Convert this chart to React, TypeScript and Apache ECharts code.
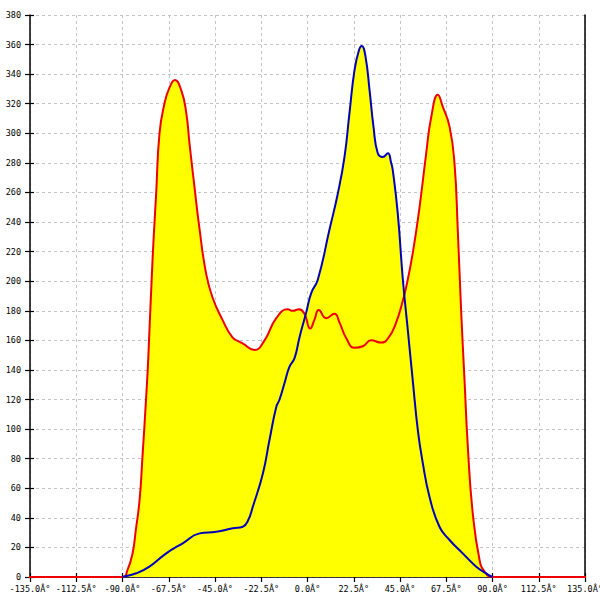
import React, { useEffect, useRef } from "react";
import * as echarts from "echarts";

// Red curve: angle (deg) and value
const redAngles = [-180, -90, -87.5, -85.1, -83.5, -81.7, -80.3, -78.3, -77.4, -75.4, -73.6, -72, -69.6, -67.1, -64.5, -61.4, -59, -57.4, -55, -52.5, -49.3, -46.2, -41.4, -36.5, -33, -31.6, -25.8, -20.9, -15.2, -9.6, -7.1, -4.2, -1.5, 1.3, 3.4, 5.5, 9.1, 13.1, 15.6, 18.8, 22.9, 26.9, 31, 35.9, 39.5, 43.1, 46.4, 48, 51.2, 54.5, 57.7, 60.2, 63.4, 65.8, 69.1, 71.5, 73.1, 74.8, 76.4, 78, 80.4, 83.7, 86, 90, 180];
const redValues = [0, 0, 5, 16, 32, 52, 81, 126, 150, 214, 260, 300, 320, 331, 336, 329, 314, 293, 264, 235, 205, 189, 174, 162, 159, 158, 153.5, 160, 175, 181, 180, 181, 178, 168, 174, 180.5, 175, 178, 172, 161.6, 155, 156, 160, 158.5, 162, 172, 187, 196, 219, 250, 286, 311, 326, 318, 304.5, 280, 235, 178, 133, 88, 43, 11.5, 4, 0, 0];

// Blue curve: angle (deg) and value
const blueAngles = [-90, -83.3, -76.9, -68.7, -60.7, -52.5, -44.4, -36.3, -31.5, -29, -26.6, -21.7, -18.5, -15.2, -13.6, -11.2, -8.8, -6.3, -3.9, -0.6, 1.8, 5, 10.7, 14.7, 18, 20.4, 22.9, 25, 26.4, 28.2, 30.2, 32.1, 34.2, 36.6, 39.1, 40.7, 41.5, 43.9, 46.4, 48.8, 51.2, 53.7, 56.1, 59.4, 64.2, 69.1, 75.5, 82.1, 86.9, 90];
const blueValues = [0, 2.5, 7, 16, 22.8, 29.5, 30.6, 33, 34, 38, 47.5, 70, 92.6, 115, 120, 131, 142, 148, 162, 179, 192, 201, 235, 259, 284, 313.5, 343, 356, 359, 352, 329, 304.5, 286.5, 284, 286.5, 280, 275, 246, 201, 167, 133, 99, 77, 54, 34, 25, 16, 7, 2.5, 0];

const xMin = -135;
const xMax = 135;
const xStep = 22.5;
const yMin = 0;
const yMax = 380;
const yStep = 20;

const fmtAngle = (v: number) => v.toFixed(1) + "Â°";

export default function App() {
  const ref = useRef<HTMLDivElement>(null);
  useEffect(() => {
    if (!ref.current) return;
    const chart = echarts.init(ref.current, null, { renderer: "svg" });
    const red = redAngles.map((a, i) => [a, redValues[i]]);
    const blue = blueAngles.map((a, i) => [a, blueValues[i]]);
    const labelStyle = { fontFamily: "DejaVu Sans Mono", fontSize: 8.5, color: "#000" };
    const split = { show: true, lineStyle: { color: "#c4c4c4", type: [3, 3] as any, width: 1 } };
    const smooth = 0.5;
    chart.setOption({
      animation: false,
      backgroundColor: "#fff",
      grid: { left: 30, right: 15, top: 15, bottom: 23, outerBoundsMode: "none", containLabel: false },
      xAxis: [
        {
          type: "value", min: xMin, max: xMax, interval: xStep, position: "bottom",
          axisLine: { show: true, onZero: false, lineStyle: { color: "#000", width: 1.5 } },
          axisTick: { show: true, length: 5, lineStyle: { color: "#000", width: 1.2 } },
          axisLabel: { ...labelStyle, margin: 7, formatter: fmtAngle, showMinLabel: true, showMaxLabel: true },
          splitLine: split,
        },
        {
          type: "value", min: xMin, max: xMax, interval: xStep, position: "bottom",
          axisLine: { show: false, onZero: false },
          axisTick: { show: true, inside: true, length: 4, lineStyle: { color: "#000", width: 1.2 } },
          axisLabel: { show: false },
          splitLine: { show: false },
        },
      ],
      yAxis: [
        {
          type: "value", min: yMin, max: yMax, interval: yStep, position: "left",
          axisLine: { show: true, onZero: false, lineStyle: { color: "#000", width: 1.5 } },
          axisTick: { show: true, length: 5, lineStyle: { color: "#000", width: 1.2 } },
          axisLabel: { ...labelStyle, margin: 9 },
          splitLine: split,
        },
        {
          type: "value", min: yMin, max: yMax, interval: yStep, position: "left",
          axisLine: { show: false, onZero: false },
          axisTick: { show: true, inside: true, length: 4, lineStyle: { color: "#000", width: 1.2 } },
          axisLabel: { show: false },
          splitLine: { show: false },
        },
        {
          type: "value", min: yMin, max: yMax, interval: yStep, position: "right",
          axisLine: { show: true, onZero: false, lineStyle: { color: "#000", width: 1.5 } },
          axisTick: { show: false },
          axisLabel: { show: false },
          splitLine: { show: false },
        },
      ],
      series: [
        {
          type: "line", data: red, smooth, showSymbol: false,
          lineStyle: { width: 0 }, areaStyle: { color: "#ffff00", opacity: 1 }, z: 1,
        },
        {
          type: "line", data: blue, smooth, showSymbol: false,
          lineStyle: { width: 0 }, areaStyle: { color: "#ffff00", opacity: 1 }, z: 1,
        },
        {
          type: "line", data: red, smooth, showSymbol: false, clip: false,
          lineStyle: { width: 2, color: "#ee0000" }, z: 3,
        },
        {
          type: "line", data: blue, smooth, showSymbol: false,
          lineStyle: { width: 2, color: "#0000bb" }, z: 4,
        },
      ],
    });
    return () => chart.dispose();
  }, []);
  return (
    <div
      ref={ref}
      style={{ position: "fixed", left: 0, top: 0, width: 600, height: 600 }}
    />
  );
}
